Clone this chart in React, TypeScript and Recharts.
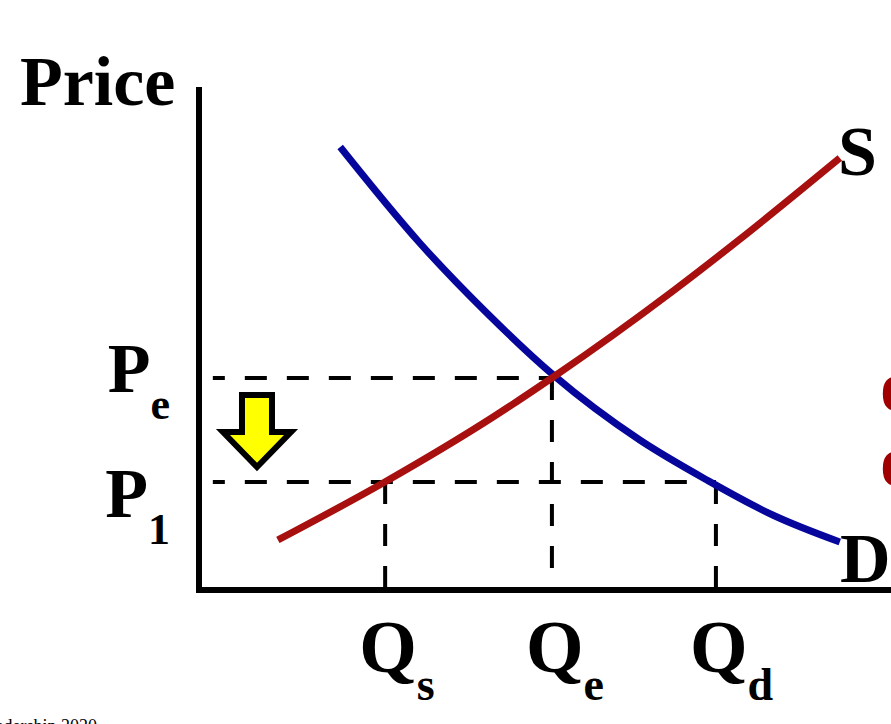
import React from "react";
import { ComposedChart, Line, XAxis, YAxis, ReferenceLine, ReferenceDot } from "recharts";

// Demand curve (quantity, price) in chart units
const demandPoints = [
  { q: 20.4, p: 88.6 },
  { q: 31.9, p: 69.4 },
  { q: 41.6, p: 55.4 },
  { q: 51.2, p: 43.0 },
  { q: 63.7, p: 30.0 },
  { q: 73.4, p: 22.0 },
  { q: 82.9, p: 15.0 },
  { q: 92.6, p: 9.6 },
];

// Supply curve
const supplyPoints = [
  { q: 11.4, p: 10.0 },
  { q: 26.6, p: 21.4 },
  { q: 42.5, p: 34.6 },
  { q: 51.2, p: 42.6 },
  { q: 68.5, p: 59.8 },
  { q: 78.2, p: 70.2 },
  { q: 92.6, p: 86.4 },
];

// Key levels
const priceLevels = [42.4, 21.6]; // Pe, P1
const priceSubs = ["e", "1"];
const quantityLevels = [26.9, 51.0, 74.7]; // Qs, Qe, Qd
const quantitySubs = ["s", "e", "d"];
const dashStartQ = 2;
const arrowPos = { q: 8.38, p: 31.6 };

const FONT = '"Liberation Serif", "Times New Roman", serif';
const BLUE = "#06069C";
const RED = "#A80F0F";

const priceDy = [14, 35];

const PriceTick = (props: any) => {
  const { x, y, index } = props;
  return (
    <text
      x={x - 29}
      y={y + priceDy[index]}
      textAnchor="end"
      fontFamily={FONT}
      fontWeight="bold"
      fontSize={70}
      fill="#000"
    >
      P
      <tspan fontSize={44} dy={27}>
        {priceSubs[index]}
      </tspan>
    </text>
  );
};

const QtyTick = (props: any) => {
  const { x, y, index } = props;
  return (
    <text
      x={x - 26}
      y={y + 82}
      textAnchor="start"
      fontFamily={FONT}
      fontWeight="bold"
      fontSize={74}
      fill="#000"
    >
      Q
      <tspan fontSize={46} dy={28}>
        {quantitySubs[index]}
      </tspan>
    </text>
  );
};

const Arrow = (props: any) => {
  const { cx, cy } = props;
  if (cx == null || cy == null) return null;
  const pts = [
    [-15, -37],
    [15, -37],
    [15, 0],
    [34, 0],
    [0, 35],
    [-34, 0],
    [-15, 0],
  ]
    .map(([dx, dy]) => `${cx + dx},${cy + dy}`)
    .join(" ");
  return <polygon points={pts} fill="#FFFF00" stroke="#000" strokeWidth={6} strokeLinejoin="miter" />;
};

const dashProps = {
  stroke: "#000",
  strokeWidth: 4,
  strokeDasharray: "22 20",
  ifOverflow: "visible" as const,
};

export default function App() {
  return (
    <div style={{ position: "absolute", left: 0, top: 0, width: 891, height: 724, background: "#fff" }}>
      <ComposedChart
        width={891}
        height={724}
        margin={{ top: 90, right: 0, left: 99, bottom: 14 }}
      >
        <XAxis
          type="number"
          dataKey="q"
          domain={[0, 100]}
          ticks={quantityLevels}
          tick={<QtyTick />}
          tickLine={false}
          tickSize={0}
          tickMargin={0}
          height={120}
          axisLine={{ stroke: "#000", strokeWidth: 6, strokeLinecap: "square" }}
          allowDataOverflow
        />
        <YAxis
          type="number"
          dataKey="p"
          domain={[0, 100]}
          ticks={priceLevels}
          tick={<PriceTick />}
          tickLine={false}
          tickSize={0}
          tickMargin={0}
          width={100}
          axisLine={{ stroke: "#000", strokeWidth: 6, strokeLinecap: "square" }}
          allowDataOverflow
        />
        <ReferenceLine
          segment={[
            { x: dashStartQ, y: priceLevels[0] },
            { x: quantityLevels[1], y: priceLevels[0] },
          ]}
          {...dashProps}
          strokeDashoffset={10}
        />
        <ReferenceLine
          segment={[
            { x: dashStartQ, y: priceLevels[1] },
            { x: quantityLevels[2], y: priceLevels[1] },
          ]}
          {...dashProps}
          strokeDashoffset={10}
        />
        <ReferenceLine
          segment={[
            { x: quantityLevels[0], y: priceLevels[1] },
            { x: quantityLevels[0], y: 0 },
          ]}
          {...dashProps}
        />
        <ReferenceLine
          segment={[
            { x: quantityLevels[1], y: priceLevels[0] },
            { x: quantityLevels[1], y: 0 },
          ]}
          {...dashProps}
        />
        <ReferenceLine
          segment={[
            { x: quantityLevels[2], y: priceLevels[1] },
            { x: quantityLevels[2], y: 0 },
          ]}
          {...dashProps}
        />
        <Line
          data={demandPoints}
          dataKey="p"
          type="monotone"
          stroke={BLUE}
          strokeWidth={7}
          dot={false}
          activeDot={false}
          isAnimationActive={false}
        />
        <Line
          data={supplyPoints}
          dataKey="p"
          type="monotone"
          stroke={RED}
          strokeWidth={7}
          dot={false}
          activeDot={false}
          isAnimationActive={false}
        />
        <ReferenceDot x={arrowPos.q} y={arrowPos.p} r={0} shape={<Arrow />} ifOverflow="visible" />
      </ComposedChart>
      <svg
        width={891}
        height={724}
        style={{ position: "absolute", left: 0, top: 0, pointerEvents: "none" }}
      >
        <text x={20} y={105} fontFamily={FONT} fontWeight="bold" fontSize={70} fill="#000">
          Price
        </text>
        <text x={838} y={175} fontFamily={FONT} fontWeight="bold" fontSize={70} fill="#000">
          S
        </text>
        <text x={840} y={582} fontFamily={FONT} fontWeight="bold" fontSize={70} fill="#000">
          D
        </text>
        <text x={880} y={411} fontFamily={FONT} fontWeight="bold" fontSize={74} fill="#A00000">
          <tspan x={880}>o</tspan>
          <tspan x={880} dy={75}>o</tspan>
        </text>
        <text x={97} y={732} textAnchor="end" fontFamily={FONT} fontSize={18} fill="#000">
          Leadership 2020
        </text>
      </svg>
    </div>
  );
}
